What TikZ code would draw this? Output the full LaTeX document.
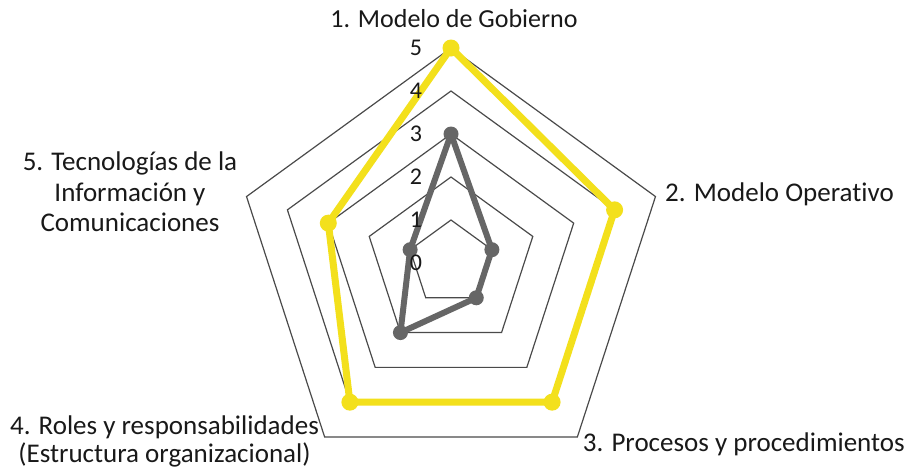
\documentclass[tikz,border=0pt]{standalone}
\usepackage{fontspec}
\setmainfont[Ligatures=NoCommon]{Carlito}
\definecolor{seriesyellow}{HTML}{F3E01C}
\definecolor{seriesgray}{HTML}{666666}
\definecolor{gridgray}{HTML}{4A4A4A}
\tikzset{
  gridline/.style={draw=gridgray, line width=1.2pt, line join=miter},
  yline/.style={draw=seriesyellow, line width=7pt, line join=round},
  gline/.style={draw=seriesgray, line width=6pt, line join=round},
  ticklab/.style={inner sep=0pt, font=\fontsize{24}{28}\selectfont, text=black!90},
  axislab/.style={inner sep=0pt, font=\fontsize{27}{31}\selectfont, text=black!90},
}
\begin{document}
\begin{tikzpicture}[x=1pt,y=1pt]
\fill[white] (0,0) rectangle (909,-474);
\useasboundingbox (0,0) rectangle (909,-474);
\begin{scope}[shift={(451,-263)}]
  \coordinate (C) at (0,0);
  \foreach \k in {1,...,5}{
    \pgfmathsetmacro{\r}{43*\k}
    \draw[gridline] (90:\r) -- (18:\r) -- (-54:\r) -- (-126:\r) -- (162:\r) -- cycle;
  }
  % yellow series: 5,4,4,4,3
  \coordinate (Y1) at (90:215);
  \coordinate (Y2) at (18:172);
  \coordinate (Y3) at (-54:172);
  \coordinate (Y4) at (-126:172);
  \coordinate (Y5) at (162:129);
  % gray series: 3,1,1,2,1
  \coordinate (G1) at (90:129);
  \coordinate (G2) at (18:43);
  \coordinate (G3) at (-54:43);
  \coordinate (G4) at (-126:86);
  \coordinate (G5) at (162:43);
  \draw[yline] (Y1) -- (Y2) -- (Y3) -- (Y4) -- (Y5) -- cycle;
  \foreach \p in {Y1,Y2,Y3,Y4,Y5} \fill[seriesyellow] (\p) circle (8.5);
  \draw[gline] (G1) -- (G2) -- (G3) -- (G4) -- (G5) -- cycle;
  \foreach \p in {G1,G2,G3,G4,G5} \fill[seriesgray] (\p) circle (7.5);
  % tick labels
  \foreach \k in {0,...,5}{
    \node[ticklab] (t\k) at (-35,43*\k) {\k};
  }
\end{scope}
% axis labels
\node[axislab, font=\fontsize{26}{30}\selectfont, anchor=base] (a1) at (454,-27.3) {1. Modelo de Gobierno};
\node[axislab, anchor=base west] (a2) at (665,-201.7) {2. Modelo Operativo};
\node[axislab, anchor=base west] (a3) at (582.7,-451.7) {3. Procesos y procedimientos};
\node[axislab, anchor=base] (a4a) at (164.5,-434) {4. Roles y responsabilidades};
\node[axislab, anchor=base] (a4b) at (164.5,-462.3) {(Estructura organizacional)};
\node[axislab, anchor=base] (a5a) at (130,-170) {5. Tecnologías de la};
\node[axislab, anchor=base] (a5b) at (130,-201) {Información y};
\node[axislab, anchor=base] (a5c) at (130,-231.5) {Comunicaciones};
\end{tikzpicture}
\end{document}
